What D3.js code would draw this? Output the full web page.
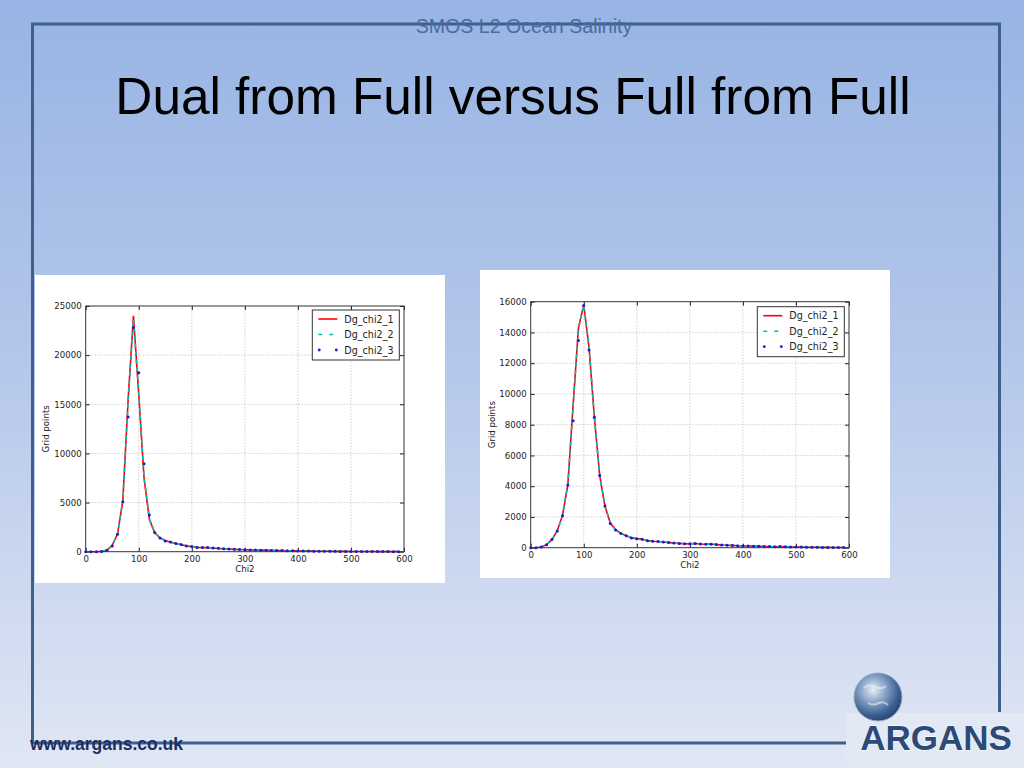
<!DOCTYPE html>
<html>
<head>
<meta charset="utf-8">
<script src="https://cdn.jsdelivr.net/npm/d3@7"></script>
<style>
  html, body { margin: 0; padding: 0; width: 1024px; height: 768px; overflow: hidden; }
  svg { display: block; }
</style>
</head>
<body>
<svg id="slide" width="1024" height="768"></svg>
<script>
// ---------- DATA ----------
const chi2Bins = [0,10,20,30,40,50,60,70,80,90,100,110,120,130,140,150,160,170,180,190,
  200,210,220,230,240,250,260,270,280,290,300,310,320,330,340,350,360,370,380,390,
  400,410,420,430,440,450,460,470,480,490,500,510,520,530,540,550,560,570,580,590];

const seriesNames = ["Dg_chi2_1", "Dg_chi2_2", "Dg_chi2_3"];

// Left panel
const leftChi2_1 = [0,0,0,30,150,650,1800,5200,15500,24000,16000,7500,3300,1950,1400,1150,960,830,710,590,
  510,440,410,410,370,330,300,270,240,220,200,190,170,160,140,130,120,110,100,90,
  80,70,60,55,50,45,40,35,30,30,25,20,20,15,15,10,10,10,5,5];
const leftChi2_2 = [0,0,0,30,150,640,1790,5150,15300,23600,16200,7600,3350,1950,1400,1150,960,830,710,590,
  510,440,410,410,370,330,300,270,240,220,200,190,170,160,140,130,120,110,100,90,
  80,70,60,55,50,45,40,35,30,30,25,20,20,15,15,10,10,10,5,5];
const leftChi2_3 = [0,0,0,30,150,580,1770,5080,13700,22800,18200,8950,3740,1950,1400,1100,980,830,720,590,
  520,440,420,430,380,340,300,270,240,220,205,185,170,160,145,130,120,110,100,90,
  80,70,62,55,50,45,40,35,30,28,25,22,20,15,15,12,10,8,5,5];
const leftYTicks = [0,5000,10000,15000,20000,25000];

// Right panel
const rightChi2_1 = [0,0,50,200,520,1100,2100,4100,9300,14300,15800,13000,8500,4700,2700,1600,1180,930,780,640,
  590,550,460,420,400,370,340,300,280,260,250,270,240,220,230,210,170,160,150,130,
  110,110,100,90,80,70,60,70,55,50,50,40,30,30,25,20,20,15,15,10];
const rightChi2_2 = [0,0,50,200,520,1100,2100,4100,9200,14200,15800,13100,8500,4700,2700,1600,1180,930,780,640,
  590,550,460,420,400,370,340,300,280,260,250,270,240,220,230,210,170,160,150,130,
  110,110,100,90,80,70,60,70,55,50,50,40,30,30,25,20,20,15,15,10];
const rightChi2_3 = [0,0,50,195,540,1085,2080,4080,8260,13470,15750,12860,8480,4700,2710,1580,1150,930,780,630,
  585,550,460,420,400,370,340,300,280,260,250,270,240,220,230,210,170,160,150,130,
  110,110,100,90,80,70,60,70,55,50,50,40,30,30,25,20,20,15,15,10];
const rightYTicks = [0,2000,4000,6000,8000,10000,12000,14000,16000];

const xTicks = [0,100,200,300,400,500,600];

// ---------- SLIDE ----------
const svg = d3.select("#slide");
const defs = svg.append("defs");
const bg = defs.append("linearGradient").attr("id","bg").attr("x1",0).attr("y1",0).attr("x2",0).attr("y2",1);
bg.append("stop").attr("offset","0%").attr("stop-color","#98b4e4");
bg.append("stop").attr("offset","45%").attr("stop-color","#b3c6ea");
bg.append("stop").attr("offset","100%").attr("stop-color","#e0e7f4");
svg.append("rect").attr("width",1024).attr("height",768).attr("fill","url(#bg)");

const frameColor = "#3f5f8d";
svg.append("line").attr("x1",31).attr("x2",1001).attr("y1",24).attr("y2",24).attr("stroke",frameColor).attr("stroke-width",3);
svg.append("line").attr("x1",32.5).attr("x2",32.5).attr("y1",23).attr("y2",744).attr("stroke",frameColor).attr("stroke-width",3);
svg.append("line").attr("x1",999.5).attr("x2",999.5).attr("y1",23).attr("y2",712).attr("stroke",frameColor).attr("stroke-width",3);
svg.append("line").attr("x1",31).attr("x2",846).attr("y1",743).attr("y2",743).attr("stroke",frameColor).attr("stroke-width",3);

svg.append("text").attr("x",524).attr("y",33).attr("text-anchor","middle")
  .attr("font-family","Liberation Sans, Arial, sans-serif").attr("font-size",19.6)
  .attr("fill","#4b6b9e").text("SMOS L2 Ocean Salinity");

svg.append("text").attr("x",513).attr("y",114).attr("text-anchor","middle")
  .attr("font-family","Liberation Sans, Arial, sans-serif").attr("font-size",51.3)
  .attr("fill","#000").text("Dual from Full versus Full from Full");

svg.append("text").attr("x",30).attr("y",750)
  .attr("font-family","Liberation Sans, Arial, sans-serif").attr("font-size",17.5).attr("font-weight","bold")
  .attr("fill","#1c2f5e").text("www.argans.co.uk");

// logo area
svg.append("rect").attr("x",846).attr("y",713).attr("width",178).attr("height",55).attr("fill","#e3e9f4");
const glob = defs.append("radialGradient").attr("id","globe").attr("cx","40%").attr("cy","35%").attr("r","70%");
glob.append("stop").attr("offset","0%").attr("stop-color","#e8eef6");
glob.append("stop").attr("offset","35%").attr("stop-color","#8fa9cc");
glob.append("stop").attr("offset","75%").attr("stop-color","#3c5f91");
glob.append("stop").attr("offset","100%").attr("stop-color","#22406e");
svg.append("circle").attr("cx",878).attr("cy",697).attr("r",24).attr("fill","url(#globe)").attr("stroke","#9aa9bd").attr("stroke-width",1);
svg.append("path").attr("d","M864,688 q6,-5 12,-1 q5,3 10,-1 M868,703 q5,3 11,0 q5,-2 9,2")
  .attr("fill","none").attr("stroke","#f2f5fa").attr("stroke-width",2).attr("opacity",0.55);
svg.append("text").attr("x",936).attr("y",750).attr("text-anchor","middle")
  .attr("font-family","Liberation Sans, Arial, sans-serif").attr("font-size",35).attr("font-weight","bold")
  .attr("fill","#2b4a78").attr("stroke","#ffffff").attr("stroke-width",0.8).attr("paint-order","stroke")
  .text("ARGANS");

// ---------- CHART PANELS ----------
function drawPanel(cfg) {
  const g = svg.append("g");
  g.append("rect").attr("x",cfg.px).attr("y",cfg.py).attr("width",cfg.pw).attr("height",cfg.ph).attr("fill","#ffffff");

  const x = d3.scaleLinear().domain([0,600]).range([cfg.x0, cfg.x1]);
  const y = d3.scaleLinear().domain([0, cfg.ymax]).range([cfg.y0, cfg.y1]);
  const font = "DejaVu Sans, sans-serif";

  g.append("g").selectAll("line").data(cfg.xticks.slice(1,-1)).join("line")
    .attr("x1",d=>x(d)).attr("x2",d=>x(d)).attr("y1",cfg.y0).attr("y2",cfg.y1)
    .attr("stroke","#aaaaaa").attr("stroke-width",0.8).attr("stroke-dasharray","1,2");
  g.append("g").selectAll("line").data(cfg.yticks.slice(1,-1)).join("line")
    .attr("x1",cfg.x0).attr("x2",cfg.x1).attr("y1",d=>y(d)).attr("y2",d=>y(d))
    .attr("stroke","#aaaaaa").attr("stroke-width",0.8).attr("stroke-dasharray","1,2");

  const fs = 8.6;
  const bottom = g.append("g").attr("transform",`translate(0,${cfg.y0})`)
    .call(d3.axisBottom(x).tickValues(cfg.xticks).tickSize(-4).tickPadding(4));
  const left = g.append("g").attr("transform",`translate(${cfg.x0},0)`)
    .call(d3.axisLeft(y).tickValues(cfg.yticks).tickSize(-4).tickPadding(4).tickFormat(d3.format("d")));
  const top = g.append("g").attr("transform",`translate(0,${cfg.y1})`)
    .call(d3.axisTop(x).tickValues(cfg.xticks).tickSize(-4).tickFormat(""));
  const right = g.append("g").attr("transform",`translate(${cfg.x1},0)`)
    .call(d3.axisRight(y).tickValues(cfg.yticks).tickSize(-4).tickFormat(""));
  [bottom,left,top,right].forEach(a => {
    a.select(".domain").remove();
    a.selectAll(".tick line").attr("stroke","#222");
    a.selectAll("text").attr("font-family",font).attr("font-size",fs).attr("fill","#222");
  });

  g.append("text").attr("x",(cfg.x0+cfg.x1)/2).attr("y",cfg.y0+20).attr("text-anchor","middle")
    .attr("font-family",font).attr("font-size",fs).attr("fill","#222").text("Chi2");
  g.append("text").attr("transform",`translate(${cfg.ylabX},${(cfg.y0+cfg.y1)/2}) rotate(-90)`)
    .attr("text-anchor","middle").attr("font-family",font).attr("font-size",fs).attr("fill","#222").text("Grid points");

  const pts = arr => chi2Bins.map((c,i)=>[c, arr[i]]);
  const line = d3.line().x(d=>x(d[0])).y(d=>y(d[1]));
  g.append("path").datum(pts(cfg.s1)).attr("d",line).attr("fill","none").attr("stroke","#ff0000").attr("stroke-width",1.6);
  g.append("path").datum(pts(cfg.s2)).attr("d",line).attr("fill","none").attr("stroke","#00bfbf").attr("stroke-width",1.6).attr("stroke-dasharray","4,4");
  g.append("g").selectAll("circle").data(pts(cfg.s3)).join("circle")
    .attr("cx",d=>x(d[0])).attr("cy",d=>y(d[1])).attr("r",1.5).attr("fill","#1a1ad0");

  g.append("rect").attr("x",cfg.x0).attr("y",cfg.y1).attr("width",cfg.x1-cfg.x0).attr("height",cfg.y0-cfg.y1)
    .attr("fill","none").attr("stroke","#333").attr("stroke-width",1);

  const lg = g.append("g");
  lg.append("rect").attr("x",cfg.lx).attr("y",cfg.ly).attr("width",87).attr("height",50)
    .attr("fill","#fff").attr("stroke","#333").attr("stroke-width",1);
  seriesNames.forEach((name,i) => {
    const yy = cfg.ly + 9 + i*15.5;
    if (i===0) lg.append("line").attr("x1",cfg.lx+6).attr("x2",cfg.lx+25).attr("y1",yy).attr("y2",yy).attr("stroke","#ff0000").attr("stroke-width",1.6);
    if (i===1) lg.append("line").attr("x1",cfg.lx+6).attr("x2",cfg.lx+25).attr("y1",yy).attr("y2",yy).attr("stroke","#00bfbf").attr("stroke-width",1.6).attr("stroke-dasharray","4,7");
    if (i===2) [cfg.lx+7, cfg.lx+24].forEach(cx => lg.append("circle").attr("cx",cx).attr("cy",yy).attr("r",1.4).attr("fill","#1a1ad0"));
    lg.append("text").attr("x",cfg.lx+32).attr("y",yy+3.5).attr("font-family",font).attr("font-size",9.6).attr("fill","#222").text(name);
  });
}

drawPanel({px:35, py:275, pw:410, ph:308, x0:85.7, x1:404, y0:551.7, y1:306, ymax:25000,
  xticks:xTicks, yticks:leftYTicks, s1:leftChi2_1, s2:leftChi2_2, s3:leftChi2_3, lx:312.3, ly:310, ylabX:49});
drawPanel({px:480, py:270, pw:410, ph:308, x0:530.7, x1:849, y0:547.7, y1:301.7, ymax:16000,
  xticks:xTicks, yticks:rightYTicks, s1:rightChi2_1, s2:rightChi2_2, s3:rightChi2_3, lx:757.3, ly:306.7, ylabX:495});
</script>
</body>
</html>
